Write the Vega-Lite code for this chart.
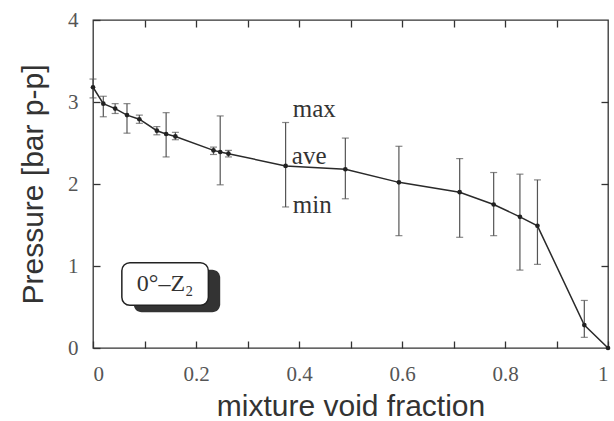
{
  "$schema": "https://vega.github.io/schema/vega-lite/v6.json",
  "autosize": "none",
  "width": 515,
  "height": 328,
  "padding": {"left": 93, "top": 20, "right": 6, "bottom": 73},
  "background": "white",
  "config": {
    "view": {"stroke": "#333", "strokeWidth": 1.3},
    "axis": {
      "domain": false,
      "grid": false,
      "tickColor": "#333",
      "tickWidth": 1.3,
      "tickSize": -7,
      "labelFont": "Liberation Serif",
      "labelFontSize": 21,
      "labelColor": "#555",
      "titleFont": "Liberation Sans",
      "titleFontSize": 30,
      "titleFontWeight": "normal",
      "titleColor": "#333"
    }
  },
  "data": {
    "values": [
      {"x": 0.0, "y": 3.18, "lo": 3.05, "hi": 3.28},
      {"x": 0.02, "y": 2.98, "lo": 2.82, "hi": 3.07},
      {"x": 0.043, "y": 2.92, "lo": 2.86, "hi": 2.98},
      {"x": 0.066, "y": 2.84, "lo": 2.62, "hi": 2.98},
      {"x": 0.09, "y": 2.79, "lo": 2.74, "hi": 2.84},
      {"x": 0.124, "y": 2.65, "lo": 2.6, "hi": 2.7},
      {"x": 0.142, "y": 2.61, "lo": 2.33, "hi": 2.87},
      {"x": 0.16, "y": 2.58, "lo": 2.54, "hi": 2.63},
      {"x": 0.234, "y": 2.41, "lo": 2.36, "hi": 2.45},
      {"x": 0.247, "y": 2.39, "lo": 1.99, "hi": 2.83},
      {"x": 0.263, "y": 2.37, "lo": 2.33, "hi": 2.41},
      {"x": 0.374, "y": 2.22, "lo": 1.72, "hi": 2.75},
      {"x": 0.49, "y": 2.18, "lo": 1.82, "hi": 2.56},
      {"x": 0.594, "y": 2.02, "lo": 1.37, "hi": 2.46},
      {"x": 0.712, "y": 1.9, "lo": 1.35, "hi": 2.31},
      {"x": 0.778, "y": 1.75, "lo": 1.37, "hi": 2.14},
      {"x": 0.829, "y": 1.6, "lo": 0.95, "hi": 2.12},
      {"x": 0.863, "y": 1.49, "lo": 1.02, "hi": 2.05},
      {"x": 0.954, "y": 0.28, "lo": 0.13, "hi": 0.58},
      {"x": 1.0, "y": 0.0, "lo": null, "hi": null}
    ]
  },
  "resolve": {"axis": {"x": "independent", "y": "independent"}},
  "layer": [
    {
      "mark": {"type": "line", "color": "#2a2a2a", "strokeWidth": 1.5},
      "encoding": {
        "x": {
          "field": "x", "type": "quantitative",
          "scale": {"domain": [0, 1], "nice": false},
          "axis": {
            "orient": "bottom",
            "values": [0, 0.1, 0.2, 0.3, 0.4, 0.5, 0.6, 0.7, 0.8, 0.9, 1],
            "format": ".1~f",
            "labelExpr": "round(datum.value * 10) % 2 == 0 ? datum.label : ''",
            "labelPadding": 22,
            "title": "mixture void fraction",
            "titlePadding": 7
          }
        },
        "y": {
          "field": "y", "type": "quantitative",
          "scale": {"domain": [0, 4], "nice": false},
          "axis": {
            "orient": "left",
            "values": [0, 1, 2, 3, 4],
            "labelPadding": 22,
            "title": "Pressure [bar p-p]",
            "titlePadding": 19
          }
        }
      }
    },
    {
      "mark": {"type": "rule", "color": "#555", "strokeWidth": 1.2},
      "encoding": {
        "x": {"field": "x", "type": "quantitative", "axis": {"orient": "top", "values": [0.1, 0.2, 0.3, 0.4, 0.5, 0.6, 0.7, 0.8, 0.9], "labels": false, "title": null}},
        "y": {"field": "lo", "type": "quantitative", "axis": {"orient": "right", "values": [1, 2, 3], "labels": false, "title": null}},
        "y2": {"field": "hi"}
      }
    },
    {
      "mark": {"type": "tick", "orient": "horizontal", "color": "#555", "thickness": 1.2, "size": 7},
      "encoding": {
        "x": {"field": "x", "type": "quantitative", "axis": null},
        "y": {"field": "lo", "type": "quantitative", "axis": null}
      }
    },
    {
      "mark": {"type": "tick", "orient": "horizontal", "color": "#555", "thickness": 1.2, "size": 7},
      "encoding": {
        "x": {"field": "x", "type": "quantitative", "axis": null},
        "y": {"field": "hi", "type": "quantitative", "axis": null}
      }
    },
    {
      "mark": {"type": "point", "filled": true, "color": "#222", "size": 22, "opacity": 1},
      "encoding": {
        "x": {"field": "x", "type": "quantitative", "axis": null},
        "y": {"field": "y", "type": "quantitative", "axis": null}
      }
    },
    {
      "data": {"values": [{}]},
      "mark": {"type": "text", "font": "Liberation Serif", "fontSize": 25, "color": "#333", "align": "left", "baseline": "middle"},
      "encoding": {
        "x": {"datum": 0.388, "type": "quantitative", "axis": null},
        "y": {"datum": 2.92, "type": "quantitative", "axis": null},
        "text": {"value": "max"}
      }
    },
    {
      "data": {"values": [{}]},
      "mark": {"type": "text", "font": "Liberation Serif", "fontSize": 25, "color": "#333", "align": "left", "baseline": "middle"},
      "encoding": {
        "x": {"datum": 0.386, "type": "quantitative", "axis": null},
        "y": {"datum": 2.34, "type": "quantitative", "axis": null},
        "text": {"value": "ave"}
      }
    },
    {
      "data": {"values": [{}]},
      "mark": {"type": "text", "font": "Liberation Serif", "fontSize": 25, "color": "#333", "align": "left", "baseline": "middle"},
      "encoding": {
        "x": {"datum": 0.388, "type": "quantitative", "axis": null},
        "y": {"datum": 1.74, "type": "quantitative", "axis": null},
        "text": {"value": "min"}
      }
    },
    {
      "data": {"values": [{}]},
      "mark": {"type": "rect", "fill": "#333", "cornerRadius": 8},
      "encoding": {
        "x": {"datum": 0.079, "type": "quantitative", "axis": null},
        "x2": {"datum": 0.247},
        "y": {"datum": 0.955, "type": "quantitative", "axis": null},
        "y2": {"datum": 0.435}
      }
    },
    {
      "data": {"values": [{}]},
      "mark": {"type": "rect", "fill": "white", "stroke": "#222", "strokeWidth": 1.5, "cornerRadius": 8},
      "encoding": {
        "x": {"datum": 0.056, "type": "quantitative", "axis": null},
        "x2": {"datum": 0.224},
        "y": {"datum": 1.04, "type": "quantitative", "axis": null},
        "y2": {"datum": 0.52}
      }
    },
    {
      "data": {"values": [{}]},
      "mark": {"type": "text", "font": "Liberation Serif", "fontSize": 24, "color": "#333", "align": "center", "baseline": "middle"},
      "encoding": {
        "x": {"datum": 0.14, "type": "quantitative", "axis": null},
        "y": {"datum": 0.78, "type": "quantitative", "axis": null},
        "text": {"value": "0°–Z₂"}
      }
    }
  ]
}
